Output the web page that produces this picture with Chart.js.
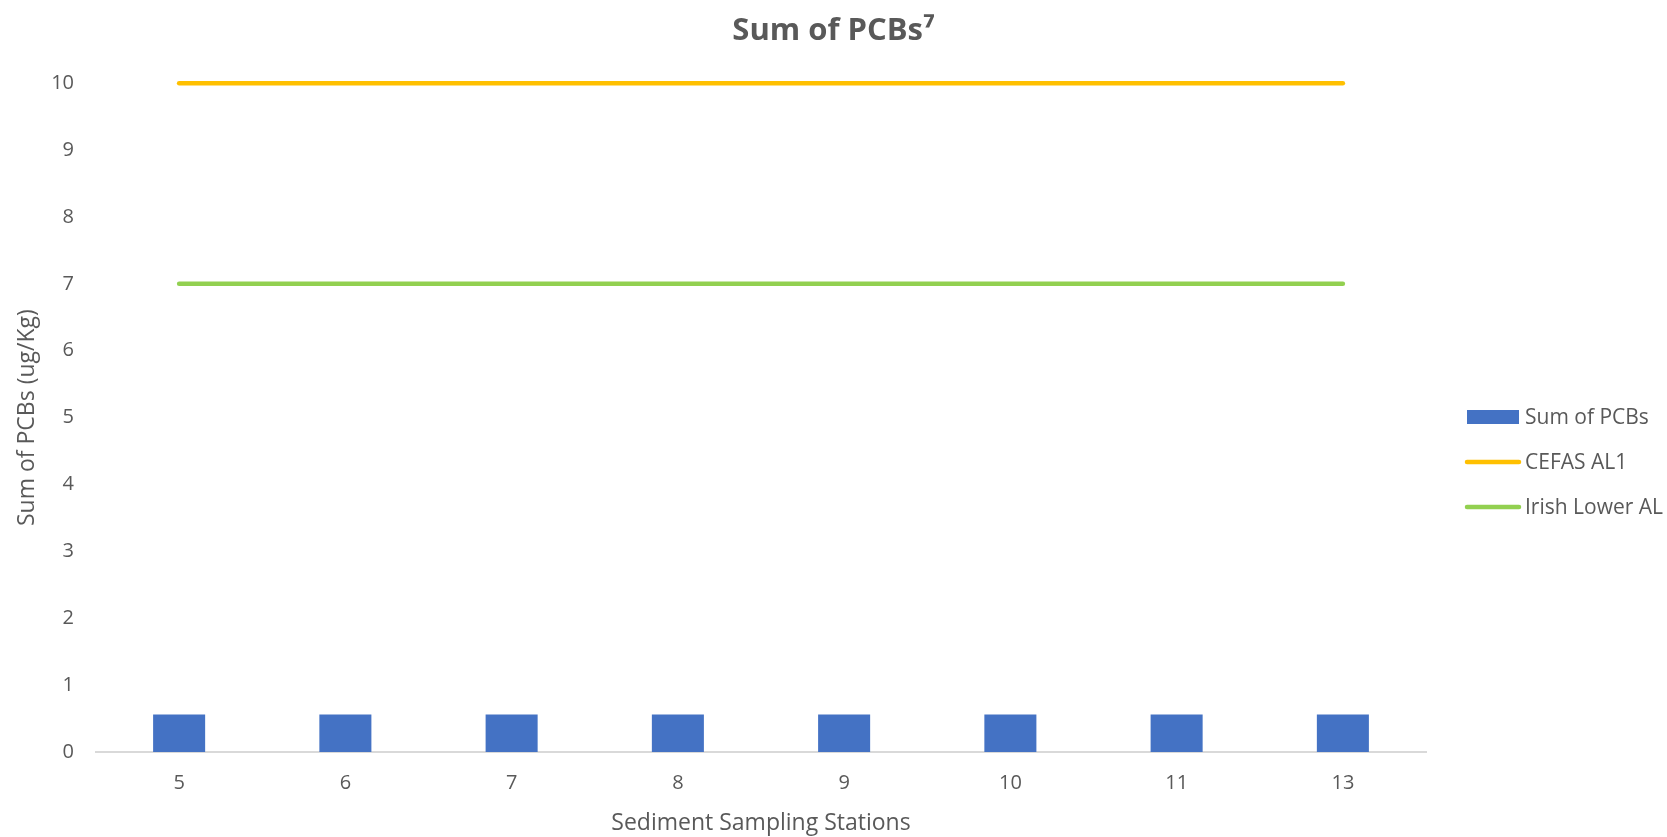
<!DOCTYPE html>
<html>
<head>
<meta charset="utf-8">
<title>Sum of PCBs</title>
<script src="https://cdn.jsdelivr.net/npm/chart.js@4.4.1/dist/chart.umd.min.js"></script>
<style>
  html, body { margin: 0; padding: 0; background: #ffffff; }
  #wrap { width: 1667px; height: 837px; position: relative; }
</style>
</head>
<body>
<div id="wrap"><canvas id="chart" width="1667" height="837"></canvas></div>
<script>
// Sediment sampling stations and measured / guideline values (ug/Kg)
const stations = ['5', '6', '7', '8', '9', '10', '11', '13'];
const sumOfPCBs = [0.56, 0.56, 0.56, 0.56, 0.56, 0.56, 0.56, 0.56];
const cefasAL1 = [10, 10, 10, 10, 10, 10, 10, 10];
const irishLowerAL = [7, 7, 7, 7, 7, 7, 7, 7];
const yTicks = [0, 1, 2, 3, 4, 5, 6, 7, 8, 9, 10];

const TEXT = '#595959';
const FONT = "'Open Sans', 'Liberation Sans', sans-serif";

// Legend drawn in the right-hand margin, one row per dataset
const sideLegend = {
  id: 'sideLegend',
  afterDraw(chart) {
    const ctx = chart.ctx;
    const x0 = 1467, boxW = 52, textX = 1525;
    const rows = [417, 462, 507];
    ctx.save();
    ctx.font = '21px ' + FONT;
    ctx.textBaseline = 'middle';
    chart.data.datasets.forEach((ds, i) => {
      const y = rows[i];
      if (ds.type === 'line') {
        ctx.strokeStyle = ds.borderColor;
        ctx.lineWidth = 4.5;
        ctx.lineCap = 'round';
        ctx.beginPath();
        ctx.moveTo(x0, y);
        ctx.lineTo(x0 + boxW, y);
        ctx.stroke();
      } else {
        ctx.fillStyle = ds.backgroundColor;
        ctx.fillRect(x0, y - 7, boxW, 14);
      }
      ctx.fillStyle = TEXT;
      ctx.fillText(ds.label, textX, y + 1);
    });
    ctx.restore();
  }
};

new Chart(document.getElementById('chart'), {
  type: 'bar',
  data: {
    labels: stations,
    datasets: [
      {
        type: 'bar',
        label: 'Sum of PCBs',
        data: sumOfPCBs,
        backgroundColor: '#4472C4',
        barPercentage: 0.313,
        categoryPercentage: 1.0,
        order: 3
      },
      {
        type: 'line',
        label: 'CEFAS AL1',
        data: cefasAL1,
        borderColor: '#FFC000',
        backgroundColor: '#FFC000',
        borderWidth: 4.5,
        borderCapStyle: 'round',
        pointRadius: 0,
        pointHoverRadius: 0,
        fill: false,
        clip: false,
        order: 1
      },
      {
        type: 'line',
        label: 'Irish Lower AL',
        data: irishLowerAL,
        borderColor: '#92D050',
        backgroundColor: '#92D050',
        borderWidth: 4.5,
        borderCapStyle: 'round',
        pointRadius: 0,
        pointHoverRadius: 0,
        fill: false,
        clip: false,
        order: 2
      }
    ]
  },
  options: {
    responsive: false,
    animation: false,
    layout: { padding: 0 },
    plugins: {
      legend: { display: false },
      tooltip: { enabled: false },
      title: {
        display: true,
        text: 'Sum of PCBs\u2077',
        color: TEXT,
        font: { family: FONT, size: 31, weight: 'bold' },
        padding: { top: 13, bottom: 33 }
      }
    },
    scales: {
      x: {
        offset: true,
        grid: { display: false, drawTicks: false },
        border: { display: true, color: '#D9D9D9', width: 2 },
        ticks: { color: TEXT, font: { family: FONT, size: 20 }, padding: 19 },
        title: {
          display: true,
          text: 'Sediment Sampling Stations',
          color: TEXT,
          font: { family: FONT, size: 23 },
          padding: { top: 0, bottom: 0 }
        },
        afterFit(scale) { scale.height = 85; }
      },
      y: {
        min: 0,
        max: 10,
        afterBuildTicks(scale) { scale.ticks = yTicks.map(v => ({ value: v })); },
        grid: { display: false, drawTicks: false },
        border: { display: false },
        ticks: { color: TEXT, font: { family: FONT, size: 20 }, padding: 22 },
        title: {
          display: true,
          text: 'Sum of PCBs (ug/Kg)',
          color: TEXT,
          font: { family: FONT, size: 23 },
          padding: { top: 14, bottom: 0 }
        },
        afterFit(scale) { scale.width = 96; }
      },
      // empty right-hand axis that reserves the legend column
      legendSpace: {
        position: 'right',
        display: true,
        grid: { display: false, drawTicks: false },
        border: { display: false },
        ticks: { display: false },
        afterFit(scale) { scale.width = 241; }
      }
    }
  },
  plugins: [sideLegend]
});
</script>
</body>
</html>
